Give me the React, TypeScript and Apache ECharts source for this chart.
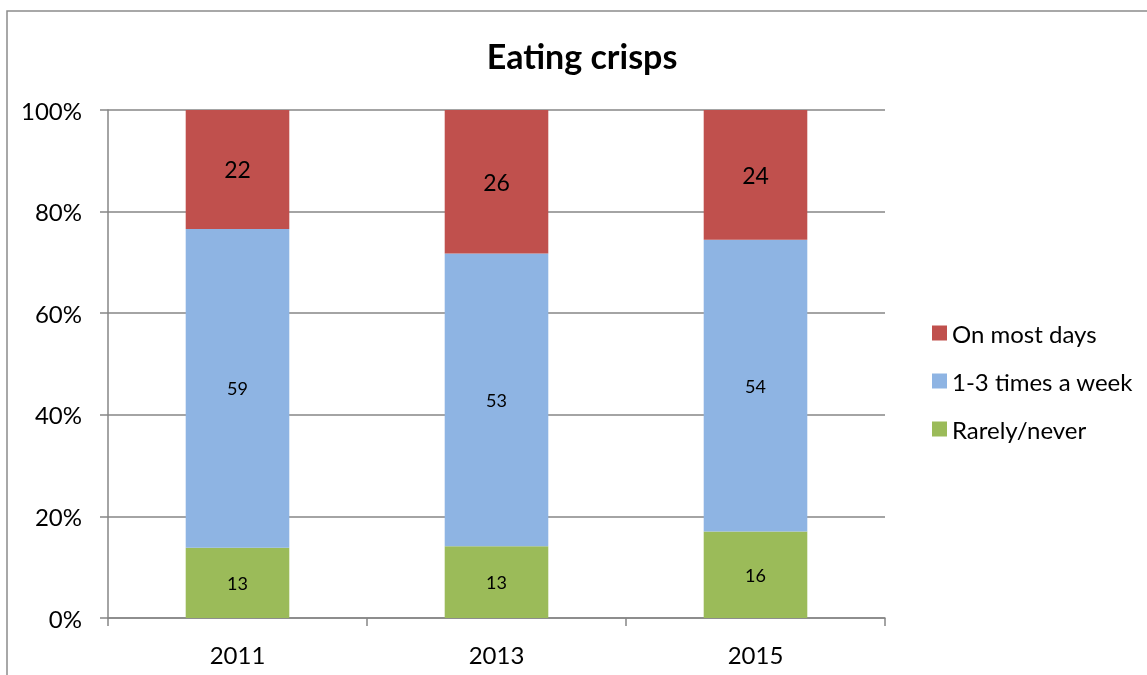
import React, { useEffect, useRef } from "react";
import * as echarts from "echarts";

const categories = ["2011", "2013", "2015"];
const rarelyNever = [13, 13, 16];
const oneToThree = [59, 53, 54];
const onMostDays = [22, 26, 24];
const yTicks = [0, 20, 40, 60, 80, 100];

const FONT = "Lato, 'Liberation Sans', sans-serif";

export default function App() {
  const ref = useRef<HTMLDivElement>(null);
  useEffect(() => {
    if (!ref.current) return;
    const chart = echarts.init(ref.current, null, { renderer: "svg" });
    const totals = categories.map((_, i) => rarelyNever[i] + oneToThree[i] + onMostDays[i]);
    const pct = (arr: number[]) => arr.map((v, i) => (v / totals[i]) * 100);
    const mk = (name: string, raw: number[], color: string, size: number) => ({
      name,
      type: "bar",
      stack: "total",
      barWidth: "40%",
      data: pct(raw),
      itemStyle: { color },
      label: {
        show: true,
        position: "inside",
        color: "#000",
        fontSize: size,
        fontFamily: FONT,
        formatter: (p: any) => String(raw[p.dataIndex]),
      },
    });
    chart.setOption({
      animation: false,
      textStyle: { fontFamily: FONT },
      title: {
        text: "Eating crisps",
        left: 582,
        textAlign: "center",
        top: 38,
        padding: 0,
        textStyle: { fontSize: 34, fontWeight: "bold", color: "#000", fontFamily: FONT },
      },
      graphic: [
        {
          type: "rect",
          shape: { x: 7, y: 11, width: 1300, height: 800 },
          style: { fill: "none", stroke: "#8c8c8c", lineWidth: 1.5 },
          silent: true,
        },
      ],
      legend: {
        orient: "vertical",
        left: 927,
        top: 316,
        itemWidth: 15,
        itemHeight: 15,
        itemGap: 24,
        icon: "rect",
        data: ["On most days", "1-3 times a week", "Rarely/never"],
        textStyle: { fontSize: 24, color: "#000", lineHeight: 24, fontFamily: FONT },
      },
      grid: { left: 108, right: 262, top: 110, bottom: 57 },
      xAxis: {
        type: "category",
        data: categories,
        axisLine: { lineStyle: { color: "#868686", width: 1.5 } },
        axisTick: { show: true, length: 8, lineStyle: { color: "#868686", width: 1.5 } },
        axisLabel: { fontSize: 24, color: "#000", margin: 24, fontFamily: FONT },
      },
      yAxis: {
        type: "value",
        min: yTicks[0],
        max: yTicks[yTicks.length - 1],
        interval: 20,
        axisLine: { show: true, lineStyle: { color: "#868686", width: 1.5 } },
        axisTick: { show: true, length: 8, lineStyle: { color: "#868686", width: 1.5 } },
        splitLine: { lineStyle: { color: "#868686", width: 1.5 } },
        axisLabel: { fontSize: 24, color: "#000", margin: 26, formatter: "{value}%", fontFamily: FONT },
      },
      series: [
        mk("Rarely/never", rarelyNever, "#9BBB59", 18),
        mk("1-3 times a week", oneToThree, "#8EB4E3", 18),
        mk("On most days", onMostDays, "#C0504D", 23),
      ],
    });
    return () => chart.dispose();
  }, []);
  return <div ref={ref} style={{ position: "fixed", left: 0, top: 0, width: 1147, height: 675 }} />;
}
